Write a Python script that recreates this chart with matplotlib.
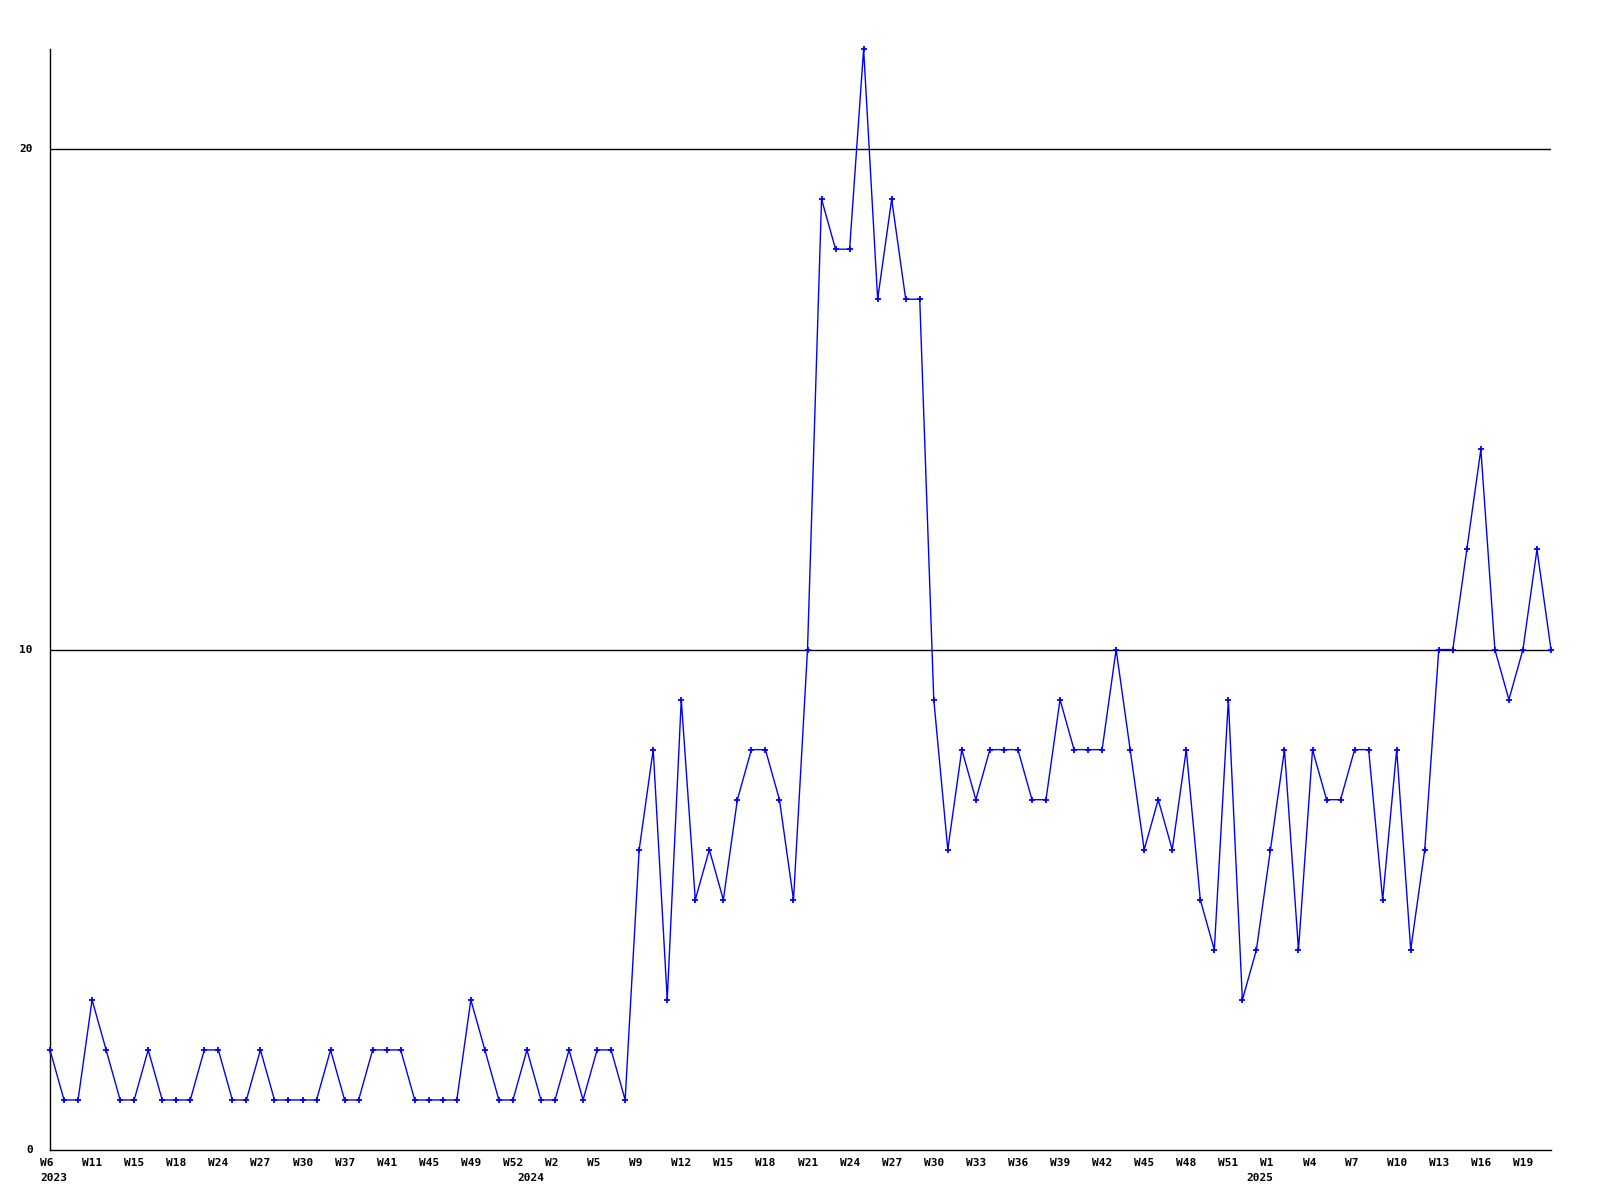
import matplotlib
matplotlib.use('Agg')
import matplotlib.pyplot as plt
import matplotlib.transforms as mtransforms

# weekly counts, one entry per week with data
values = [2, 1, 1, 3, 2, 1, 1, 2, 1, 1, 1, 2, 2, 1, 1, 2, 1, 1, 1, 1,
          2, 1, 1, 2, 2, 2, 1, 1, 1, 1, 3, 2, 1, 1, 2, 1, 1, 2, 1, 2,
          2, 1, 6, 8, 3, 9, 5, 6, 5, 7, 8, 8, 7, 5, 10, 19, 18, 18, 22, 17,
          19, 17, 17, 9, 6, 8, 7, 8, 8, 8, 7, 7, 9, 8, 8, 8, 10, 8, 6, 7,
          6, 8, 5, 4, 9, 3, 4, 6, 8, 4, 8, 7, 7, 8, 8, 5, 8, 4, 6, 10,
          10, 12, 14, 10, 9, 10, 12, 10]

# labels drawn every third point
week_labels = ['W6', 'W11', 'W15', 'W18', 'W24', 'W27', 'W30', 'W37', 'W41',
               'W45', 'W49', 'W52', 'W2', 'W5', 'W9', 'W12', 'W15', 'W18',
               'W21', 'W24', 'W27', 'W30', 'W33', 'W36', 'W39', 'W42', 'W45',
               'W48', 'W51', 'W1', 'W4', 'W7', 'W10', 'W13', 'W16', 'W19']
years = ['2023', '2024', '2025']
year_start = [0, 34, 86]
y_ticks = [0, 10, 20]

font = dict(family='DejaVu Sans Mono', weight='bold', size=8)

fig = plt.figure(figsize=(16, 12), dpi=100)
ax = fig.add_axes([50 / 1600, 50 / 1200, 1501 / 1600, 1101 / 1200])

x = list(range(len(values)))
ax.plot(x, values, color='#0000ff', lw=1.0, marker='+', ms=5, mew=1.3,
        zorder=3, clip_on=False)

ax.set_xlim(0, len(values) - 1)
ax.set_ylim(0, 22)

for v in y_ticks[1:]:
    ax.axhline(v, color='black', lw=1.0, zorder=1)

for s in ['top', 'right']:
    ax.spines[s].set_visible(False)
for s in ['left', 'bottom']:
    ax.spines[s].set_color('black')
    ax.spines[s].set_linewidth(1.0)

ax.set_xticks([])
ax.set_yticks([])

# y labels
ytrans = mtransforms.offset_copy(ax.get_yaxis_transform(), fig=fig, x=-17, y=0, units='dots')
for v in y_ticks:
    ax.text(0, v, str(v), transform=ytrans, ha='right', va='center', **font)

# week labels, left aligned a bit before each point
xtrans = mtransforms.offset_copy(ax.get_xaxis_transform(), fig=fig, x=-10, y=-8, units='dots')
for i, lab in enumerate(week_labels):
    ax.text(i * 3, 0, lab, transform=xtrans, ha='left', va='top', **font)

ytrans2 = mtransforms.offset_copy(ax.get_xaxis_transform(), fig=fig, x=-10, y=-23, units='dots')
for yr, i in zip(years, year_start):
    ax.text(i, 0, yr, transform=ytrans2, ha='left', va='top', **font)

fig.savefig('out.png', dpi=100, facecolor='white')
